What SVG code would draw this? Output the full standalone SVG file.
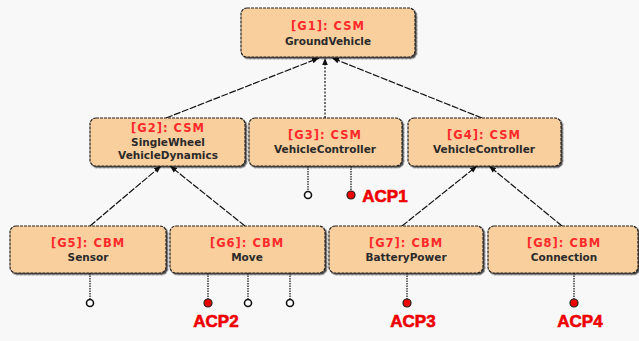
<svg xmlns="http://www.w3.org/2000/svg" width="639" height="341" viewBox="0 0 639 341">
<defs>
<marker id="ah" viewBox="0 0 10 10" refX="10" refY="5" markerWidth="7" markerHeight="7" orient="auto" markerUnits="userSpaceOnUse">
<path d="M0,1 L10,5 L0,9 z" fill="#111"/>
</marker>
<filter id="sh" x="-5%" y="-10%" width="115%" height="130%">
<feDropShadow dx="1.5" dy="1.5" stdDeviation="0.6" flood-color="#000" flood-opacity="0.7"/>
</filter>
</defs>
<style>
.box{fill:#f9cf9e;stroke:#222;stroke-width:1.2;stroke-dasharray:3 1;filter:url(#sh)}
.t1{font-family:"DejaVu Sans",Verdana,sans-serif;font-weight:bold;font-size:11.5px;letter-spacing:1px;fill:#ff2a2a;text-anchor:middle}
.t2{font-family:"DejaVu Sans",Verdana,sans-serif;font-weight:bold;font-size:10.5px;fill:#2a2a2a;text-anchor:middle}
.edge{stroke:#111;stroke-width:1.2;fill:none;stroke-dasharray:7 1.5;marker-end:url(#ah)}
.port{stroke:#222;stroke-width:1.3;stroke-dasharray:1.5 1;fill:none}
.op{fill:#fff;stroke:#111;stroke-width:1.6}
.cp{fill:#ee0000;stroke:#222;stroke-width:1.2}
.acp{font-family:"Liberation Sans",Arial,sans-serif;font-weight:bold;font-size:17px;fill:#ee0000;stroke:#ee0000;stroke-width:0.6;text-anchor:middle}
</style>
<rect width="639" height="341" fill="#f8f8f8"/>
<g id="connectors">
<line class="edge" x1="166" y1="118" x2="319" y2="58"/>
<line class="edge" x1="325" y1="118" x2="325" y2="58" style="stroke-dasharray:2 1.5"/>
<line class="edge" x1="482" y1="118" x2="332" y2="58"/>
<line class="edge" x1="90" y1="226" x2="161" y2="166"/>
<line class="edge" x1="245" y1="226" x2="170" y2="166"/>
<line class="edge" x1="402" y1="226" x2="477" y2="166"/>
<line class="edge" x1="562" y1="226" x2="489" y2="166"/>
<line class="port" x1="308" y1="166" x2="308" y2="192"/>
<line class="port" x1="351" y1="166" x2="351" y2="192"/>
<line class="port" x1="90" y1="273" x2="90" y2="300"/>
<line class="port" x1="208" y1="273" x2="208" y2="300"/>
<line class="port" x1="248" y1="273" x2="248" y2="300"/>
<line class="port" x1="290" y1="273" x2="290" y2="300"/>
<line class="port" x1="407" y1="273" x2="407" y2="300"/>
<line class="port" x1="574" y1="273" x2="574" y2="300"/>
</g>
<g id="G1"><rect class="box" x="241" y="8" width="174" height="49" rx="6"/><text class="t1" x="328" y="30">[G1]: CSM</text><text class="t2" x="328" y="45">GroundVehicle</text></g>
<g id="G2"><rect class="box" x="90" y="118" width="155" height="48" rx="6"/><text class="t1" x="168" y="132">[G2]: CSM</text><text class="t2" x="168" y="146">SingleWheel</text><text class="t2" x="168" y="159">VehicleDynamics</text></g>
<g id="G3"><rect class="box" x="249" y="118" width="153" height="48" rx="6"/><text class="t1" x="325" y="139">[G3]: CSM</text><text class="t2" x="325" y="153">VehicleController</text></g>
<g id="G4"><rect class="box" x="408" y="118" width="153" height="48" rx="6"/><text class="t1" x="484" y="139">[G4]: CSM</text><text class="t2" x="484" y="153">VehicleController</text></g>
<g id="G5"><rect class="box" x="10" y="226" width="156" height="47" rx="6"/><text class="t1" x="88" y="247">[G5]: CBM</text><text class="t2" x="88" y="261">Sensor</text></g>
<g id="G6"><rect class="box" x="170" y="226" width="155" height="47" rx="6"/><text class="t1" x="247" y="247">[G6]: CBM</text><text class="t2" x="247" y="261">Move</text></g>
<g id="G7"><rect class="box" x="329" y="226" width="154" height="47" rx="6"/><text class="t1" x="406" y="247">[G7]: CBM</text><text class="t2" x="406" y="261">BatteryPower</text></g>
<g id="G8"><rect class="box" x="488" y="226" width="150" height="47" rx="6"/><text class="t1" x="564" y="247">[G8]: CBM</text><text class="t2" x="564" y="261">Connection</text></g>
<g id="ports">
<circle class="op" cx="308" cy="195" r="3.5"/>
<circle class="cp" cx="351" cy="195" r="4"/>
<text class="acp" x="385" y="202">ACP1</text>
<circle class="op" cx="90" cy="303" r="3.5"/>
<circle class="cp" cx="208" cy="303" r="4"/>
<circle class="op" cx="248" cy="303" r="3.5"/>
<circle class="op" cx="290" cy="303" r="3.5"/>
<text class="acp" x="216" y="327">ACP2</text>
<circle class="cp" cx="407" cy="303" r="4"/>
<text class="acp" x="413" y="327">ACP3</text>
<circle class="cp" cx="574" cy="303" r="4"/>
<text class="acp" x="580" y="327">ACP4</text>
</g>
</svg>
